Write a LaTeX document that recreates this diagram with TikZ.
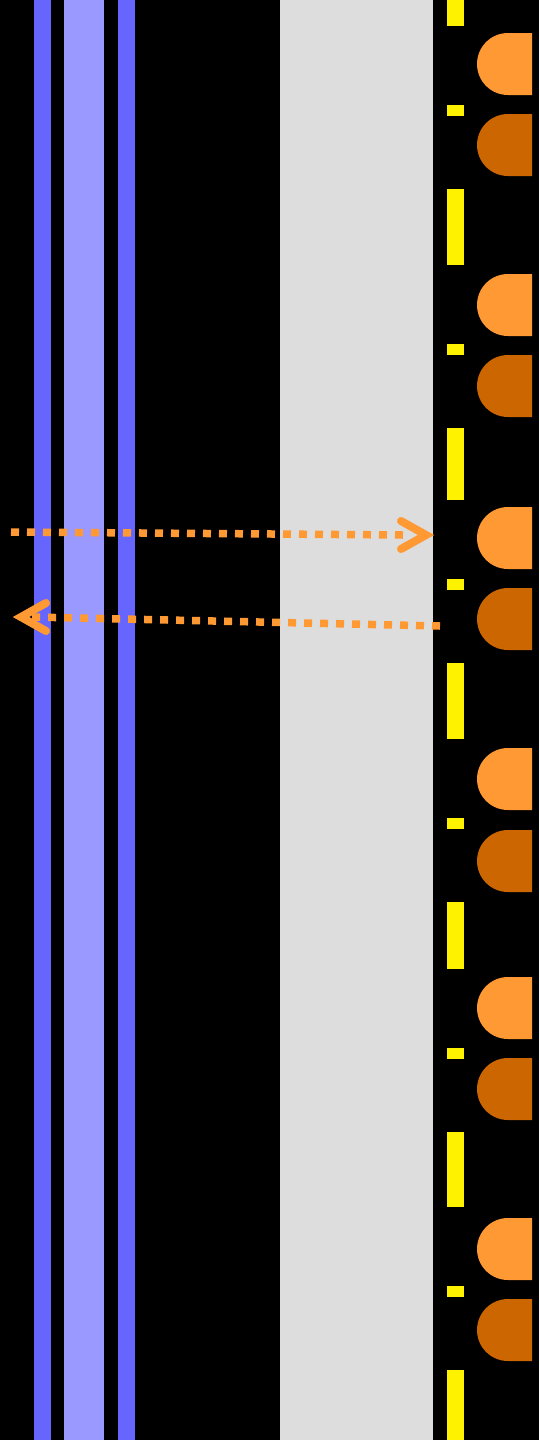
\documentclass[tikz,border=0pt]{standalone}
\begin{document}
\begin{tikzpicture}[x=1pt,y=-1pt,
  bluedark/.style={fill={rgb,255:red,102;green,102;blue,255}},
  bluelight/.style={fill={rgb,255:red,153;green,153;blue,255}},
  grayband/.style={fill={rgb,255:red,221;green,221;blue,221}},
  yel/.style={fill=yellow},
  orlight/.style={fill={rgb,255:red,255;green,153;blue,51}},
  ordark/.style={fill={rgb,255:red,204;green,102;blue,0}},
  dotline/.style={draw={rgb,255:red,255;green,153;blue,51},line width=7.5pt,dash pattern=on 8pt off 8pt},
  chevron/.style={draw={rgb,255:red,255;green,153;blue,51},line width=8pt,line cap=round,line join=miter}]
\fill[black] (0,0) rectangle (539,1440);
\useasboundingbox (0,0) rectangle (539,1440);
% vertical bands
\path[bluedark] (34,0) rectangle (51,1440);
\path[bluelight] (64,0) rectangle (104,1440);
\path[bluedark] (118,0) rectangle (135,1440);
\path[grayband] (280,0) rectangle (433,1440);
% yellow segments
\foreach \a/\b in {0/26,105/116,189/265,344/355,428/500,579/590,663/739,818/829,902/969,1048/1059,1132/1207,1286/1297,1370/1440}
  \path[yel] (447,\a) rectangle (464,\b);
% orange D shapes
\foreach \t in {33,274,507,748,977,1218}
  \path[orlight] (532,\t) -- (508,\t) arc[start angle=-90,end angle=-270,radius=31] -- (532,\t+62) -- cycle;
\foreach \t in {114,355,588,830,1058,1299}
  \path[ordark] (532,\t) -- (508,\t) arc[start angle=-90,end angle=-270,radius=31] -- (532,\t+62) -- cycle;
% arrows
\coordinate (a1s) at (11,532);
\coordinate (a1e) at (403,535);
\coordinate (a1t) at (426,535);
\draw[dotline] (a1s) -- (a1e);
\draw[chevron] (401,521) -- (a1t) -- (401,549);
\coordinate (a2s) at (440,626);
\coordinate (a2e) at (32,617);
\coordinate (a2t) at (21,617);
\draw[dotline] (a2s) -- (a2e);
\draw[chevron] (46,603) -- (a2t) -- (46,631);
\end{tikzpicture}
\end{document}
